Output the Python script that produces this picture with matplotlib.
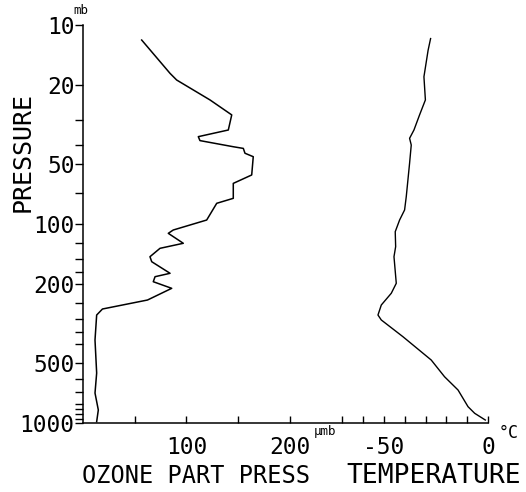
import matplotlib
matplotlib.use("Agg")
import matplotlib.pyplot as plt

# Ozone partial pressure profile (µmb) vs pressure (mb)
ozone_p = [11.9, 17.5, 18.9, 23.8, 28.3, 33.7, 36.4, 38.1, 40.9, 41.7, 44.1, 45.9,
           56.7, 62.5, 74.3, 78.7, 95.5, 107.2, 111.4, 125, 132.5, 146, 154.7, 176.9,
           184, 195, 210.5, 241, 267.4, 286.7, 383, 561, 707, 860, 985]
ozone_val = [56.7, 84.1, 90.5, 122.7, 143.7, 140.4, 111.4, 113, 145.2, 154.9, 156.5, 164.5,
             163, 145.2, 145.2, 129.2, 119.5, 87.2, 82.4, 96.9, 74.4, 64.7, 66.4, 84.1,
             69.6, 67.9, 85.7, 62.3, 18.8, 13.2, 11.6, 13.2, 11.6, 14.8, 13.2]

# Temperature profile (°C) vs pressure (mb)
temp_p = [11.7, 13.4, 18.2, 23.8, 28.3, 33.7, 37.1, 40.1, 49.5, 72.9, 85, 95.5, 109.3,
          130, 146, 198.6, 222.9, 255.3, 286.7, 303.6, 368.4, 482.5, 585.4, 682.8,
          828, 894, 966]
temp_val = [-27.6, -28.8, -30.8, -30.1, -32.9, -35.6, -37.7, -36.9, -37.7, -39.3, -40.1,
            -42.5, -44.6, -44.4, -45.2, -44.1, -46.5, -51.3, -52.9, -51.3, -40.9, -27.3,
            -20.9, -14.4, -9.6, -6.4, -1.3]

p_major = [10, 20, 50, 100, 200, 500, 1000]
p_minor = [30, 40, 70, 125, 150, 175, 250, 300, 350, 400, 600, 700, 800, 850, 900, 950]
oz_ticks = [50, 100, 150, 200]
oz_labels = {100: "100", 200: "200"}
t_ticks = [-70, -60, -50, -40, -30, -20, -10, 0]
t_labels = {-50: "-50", 0: "0"}

FS = 16.5
plt.rcParams['font.family'] = ['DejaVu Sans Mono', 'DejaVu Sans']

fig = plt.figure(figsize=(5.26, 4.92), dpi=100)
ax = fig.add_axes([83/526, 1-423/492, 405/526, 398/492])
ax.plot(ozone_val, ozone_p, color='black', lw=1.1)
ax.set_yscale('log')
ax.set_ylim(1000, 10)
ax.set_xlim(0, 405/1.035)
ax.set_yticks(p_major)
ax.set_yticklabels([str(v) for v in p_major], fontsize=FS)
ax.set_yticks(p_minor, minor=True)
ax.yaxis.set_minor_formatter(matplotlib.ticker.NullFormatter())
ax.tick_params(axis='y', which='major', direction='out', length=6, width=1, pad=0)
ax.tick_params(axis='y', which='minor', direction='out', length=6, width=1)
ax.set_xticks(oz_ticks)
ax.set_xticklabels([oz_labels.get(v, "") for v in oz_ticks], fontsize=FS)
ax.tick_params(axis='x', which='both', direction='in', length=5, width=1, pad=9)
ax.xaxis.set_minor_locator(matplotlib.ticker.NullLocator())
for s in ['top', 'right']:
    ax.spines[s].set_visible(False)
for s in ['left', 'bottom']:
    ax.spines[s].set_linewidth(1.1)

ax2 = ax.twiny()
ax2.plot(temp_val, temp_p, color='black', lw=1.0)
ax2.set_xlim(-405/2.08, 0)
ax2.set_ylim(1000, 10)
ax2.xaxis.set_ticks_position('bottom')
ax2.set_xticks(t_ticks)
ax2.set_xticklabels([t_labels.get(v, "") for v in t_ticks], fontsize=FS)
ax2.tick_params(axis='x', direction='in', length=5, width=1, pad=9)
for s in ['top', 'right', 'left', 'bottom']:
    ax2.spines[s].set_visible(False)

fig.text(23/526, 1-152/492, "PRESSURE", fontsize=18, rotation=90, ha='center', va='center')

fig.text(73/526, 1-11/492, "mb", fontsize=9, ha='left', va='center')
fig.text(314/526, 1-431/492, "µmb", fontsize=9, ha='left', va='center')
fig.text(499/526, 1-433/492, "°C", fontsize=12, ha='left', va='center')
fig.text(82/526, 1-476/492, "OZONE PART PRESS", fontsize=17, ha='left', va='center')
fig.text(521/526, 1-476/492, "TEMPERATURE", fontsize=19, ha='right', va='center')

fig.savefig("out.png", dpi=100)
